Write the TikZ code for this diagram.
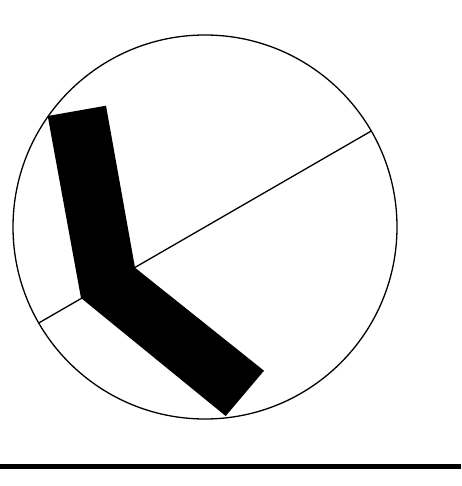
\documentclass[tikz,border=0pt]{standalone}
\usepackage{tikz}
\usetikzlibrary{calc}

\begin{document}
\begin{tikzpicture}[
  x=1pt, y=-1pt,
  rim/.style={draw=black, line width=1.3pt},
  limb/.style={fill=black},
  ground/.style={draw=black, line width=5pt}
]
  \useasboundingbox (0,0) rectangle (461,486);

  % wheel and its diameter
  \coordinate (hub) at (205,227);
  \draw[rim] (hub) circle[radius=192];
  \draw[rim] ($(hub)+(-30:192)$) -- ($(hub)+(150:192)$);

  % bent leg
  \coordinate (hipL)  at (47.7,116);
  \coordinate (hipR)  at (106,105.7);
  \coordinate (knee)  at (135,267.7);
  \coordinate (footT) at (264,370.7);
  \coordinate (footB) at (225.7,416);
  \coordinate (back)  at (81,298);
  \fill[limb] (hipL) -- (hipR) -- (knee) -- (footT) -- (footB) -- (back) -- cycle;

  % floor
  \draw[ground] (0,466) -- (461,466);
\end{tikzpicture}
\end{document}
